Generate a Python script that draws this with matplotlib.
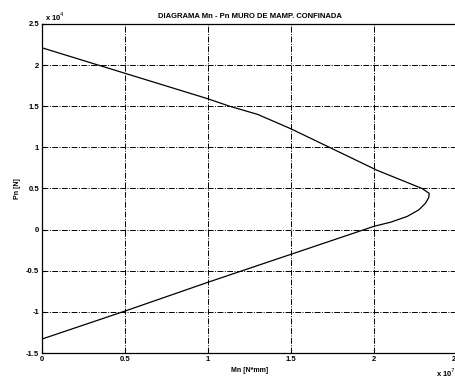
import matplotlib
matplotlib.use("Agg")
import matplotlib.pyplot as plt

# interaction diagram (Mn in x10^7 N*mm units, Pn in x10^4 N units)
mn_upper = [0.0, 0.5, 1.0, 1.13, 1.3, 1.5, 2.02, 2.29, 2.333]
pn_upper = [2.21, 1.90, 1.59, 1.50, 1.40, 1.225, 0.72, 0.50, 0.44]
mn_nose = [2.333, 2.33, 2.31, 2.27, 2.2, 2.1, 2.0]
pn_nose = [0.44, 0.39, 0.32, 0.24, 0.16, 0.09, 0.04]
mn_lower = [2.0, 1.5, 1.0, 0.5, 0.0]
pn_lower = [0.04, -0.30, -0.64, -0.99, -1.33]

xticks = [0, 0.5, 1, 1.5, 2, 2.5]
xtick_labels = ["0", "0.5", "1", "1.5", "2", "2.5"]
yticks = [-1.5, -1, -0.5, 0, 0.5, 1, 1.5, 2, 2.5]
ytick_labels = ["-1.5", "-1", "-0.5", "0", "0.5", "1", "1.5", "2", "2.5"]

plt.rcParams["font.family"] = ["Liberation Sans", "DejaVu Sans"]

fig = plt.figure(figsize=(4.55, 3.8), dpi=100)
ax = fig.add_axes([0.0923, 0.071, 0.912, 0.866])

mn = mn_upper + mn_nose[1:] + mn_lower[1:]
pn = pn_upper + pn_nose[1:] + pn_lower[1:]
ax.plot(mn, pn, color="black", lw=0.9)

ax.set_xlim(0, 2.5)
ax.set_ylim(-1.5, 2.5)
ax.set_xticks(xticks)
ax.set_xticklabels(xtick_labels)
ax.set_yticks(yticks)
ax.set_yticklabels(ytick_labels)
ax.tick_params(direction="in", length=3, width=0.8, labelsize=5.5, pad=2)
for lbl in ax.get_xticklabels() + ax.get_yticklabels():
    lbl.set_fontweight("bold")
ax.grid(True, color="black", lw=0.7, linestyle=(0, (6, 1.5, 1, 1.5)))
for s in ax.spines.values():
    s.set_linewidth(0.9)

ax.set_title("DIAGRAMA Mn - Pn MURO DE MAMP. CONFINADA", fontsize=5.5,
             fontweight="bold", pad=4)
ax.set_xlabel("Mn [N*mm]", fontsize=5, fontweight="bold", labelpad=3)
ax.set_ylabel("Pn [N]", fontsize=5, fontweight="bold", labelpad=4)

fig.text(0.099, 0.945, "x 10$^4$", fontsize=5.5, fontweight="bold")
fig.text(0.958, 0.008, "x 10$^7$", fontsize=5.5, fontweight="bold")

fig.savefig("out.png", dpi=100)
